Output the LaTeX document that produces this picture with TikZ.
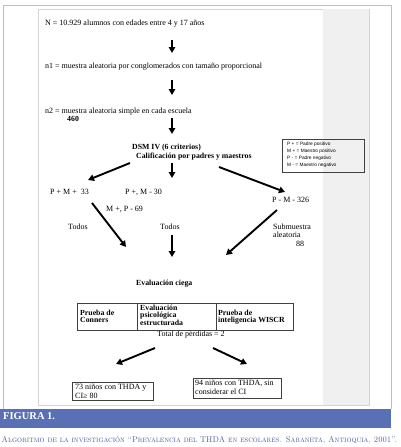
\documentclass[tikz,border=0pt]{standalone}
\usepackage{fontspec}
\newfontfamily\tnr{Liberation Serif}
\newfontfamily\arial{Liberation Sans}
\usetikzlibrary{arrows.meta}
\definecolor{barblue}{HTML}{5A70B5}
\definecolor{capblue}{HTML}{4A5CA0}
\definecolor{framecol}{HTML}{B4C0D6}
\definecolor{panelcol}{HTML}{D4D4D4}
\definecolor{stripcol}{HTML}{F0F0F0}
\begin{document}
\begin{tikzpicture}[x=1pt,y=-1pt,
  txt/.style={anchor=base west,inner sep=0pt,font=\tnr\fontsize{8}{9}\selectfont},
  btxt/.style={anchor=base west,inner sep=0pt,font=\tnr\bfseries\fontsize{7.8}{9}\selectfont},
  leg/.style={anchor=base west,inner sep=0pt,font=\arial\fontsize{4.8}{6}\selectfont},
  box/.style={draw,line width=0.6pt,anchor=north west,inner sep=0pt,draw=black!75},
  arr/.style={line width=1.9pt,-{Triangle[length=6pt,width=6.5pt]}},
]
\useasboundingbox (0,0) rectangle (400,447);
\fill[white] (0,0) rectangle (400,447);
\draw[framecol,line width=1pt] (3,409) -- (3,5) -- (391,5) -- (391,409);
\filldraw[fill=white,draw=panelcol,line width=0.6pt] (38,9) rectangle (369,405);
\fill[stripcol] (323,9.4) rectangle (368.6,404.6);
\fill[barblue] (0,409) rectangle (391,428);
\node[anchor=base west,inner sep=0pt,text=white,font=\tnr\bfseries\fontsize{10.5}{12}\selectfont] (fig) at (3,419) {FIGURA 1.};
\node[anchor=base west,inner sep=0pt,text=capblue,font=\fontsize{8}{9}\selectfont] (cap) at (1.5,442) {\resizebox{395pt}{6.5pt}{\textsc{Algoritmo de la investigación “Prevalencia del THDA en escolares. Sabaneta, Antioquia, 2001”.}}};

% texts
\node[txt] (N) at (45,25.5) {N = 10.929 alumnos con edades entre 4 y 17 años};
\node[txt] (n1) at (45,68) {n1 = muestra aleatoria por conglomerados con tamaño proporcional};
\node[txt] (n2) at (45,113.5) {n2 = muestra aleatoria simple en cada escuela};
\node[btxt] (n460) at (67,121.5) {460};
\node[btxt] (dsm) at (132,149.5) {DSM IV (6 criterios)};
\node[btxt] (cal) at (136,158.5) {Calificación por padres y maestros};
\node[txt] (pp) at (50,194.5) {P + M +\ \ 33};
\node[txt] (pm) at (125,194.5) {P +, M - 30};
\node[txt] (mp) at (106,211) {M +, P - 69};
\node[txt] (nn) at (272,202.5) {P - M - 326};
\node[txt] (todos1) at (68,229.5) {Todos};
\node[txt] (todos2) at (160,229.5) {Todos};
\node[txt] (sub1) at (273,229.5) {Submuestra};
\node[txt] (sub2) at (273,237.5) {aleatoria};
\node[txt] (sub3) at (296,246) {88};
\node[btxt] (ciega) at (136,285.5) {Evaluación ciega};
\node[txt] (total) at (157,336.5) {Total de pérdidas = 2};

% legend
\node[box,minimum width=82pt,minimum height=33pt] (legend) at (282,139) {};
\node[leg] (l1) at (287,145) {P + = Padre positivo};
\node[leg] (l2) at (287,152) {M + = Maestro positivo};
\node[leg] (l3) at (287,159) {P - = Padre negativo};
\node[leg] (l4) at (287,166) {M - = Maestro negativo};

% table
\node[box,minimum width=60pt,minimum height=27pt] (c1) at (77,303) {};
\node[box,minimum width=79pt,minimum height=27pt] (c2) at (137,303) {};
\node[box,minimum width=77pt,minimum height=27pt] (c3) at (216,303) {};
\node[btxt] (t11) at (80,315) {Prueba de};
\node[btxt] (t12) at (80,322.5) {Conners};
\node[btxt] (t21) at (140,310) {Evaluación};
\node[btxt] (t22) at (140,317.5) {psicológica};
\node[btxt] (t23) at (140,325.5) {estructurada};
\node[btxt] (t31) at (218,315) {Prueba de};
\node[btxt] (t32) at (218,322.5) {inteligencia WISCR};

% result boxes
\node[box,minimum width=81pt,minimum height=18pt] (ra) at (72,382) {};
\node[txt] (ra1) at (75,389.5) {73 niños con THDA y};
\node[txt] (ra2) at (75,398) {CI≥ 80};
\node[box,minimum width=88pt,minimum height=20pt] (rb) at (193,378) {};
\node[txt] (rb1) at (195,385.5) {94 niños con THDA, sin};
\node[txt] (rb2) at (195,394.5) {considerar el CI};

% arrow coordinates
\coordinate (a1s) at (172,40);  \coordinate (a1e) at (172,53);
\coordinate (a2s) at (172,80);  \coordinate (a2e) at (172,95);
\coordinate (a3s) at (172,118); \coordinate (a3e) at (172,134);
\coordinate (a4s) at (130,163); \coordinate (a4e) at (88,180);
\coordinate (a5s) at (172,163); \coordinate (a5e) at (172,178);
\coordinate (a6s) at (219,167); \coordinate (a6e) at (285,192);
\coordinate (a7s) at (92,203);  \coordinate (a7e) at (126,247);
\coordinate (a8s) at (172,235); \coordinate (a8e) at (172,257);
\coordinate (a9s) at (277,210); \coordinate (a9e) at (226,255);
\coordinate (a10s) at (155,348); \coordinate (a10e) at (116,364);
\coordinate (a11s) at (213,348); \coordinate (a11e) at (247,364);
\foreach \i in {1,...,11} {\draw[arr] (a\i s) -- (a\i e);}
\end{tikzpicture}
\end{document}
